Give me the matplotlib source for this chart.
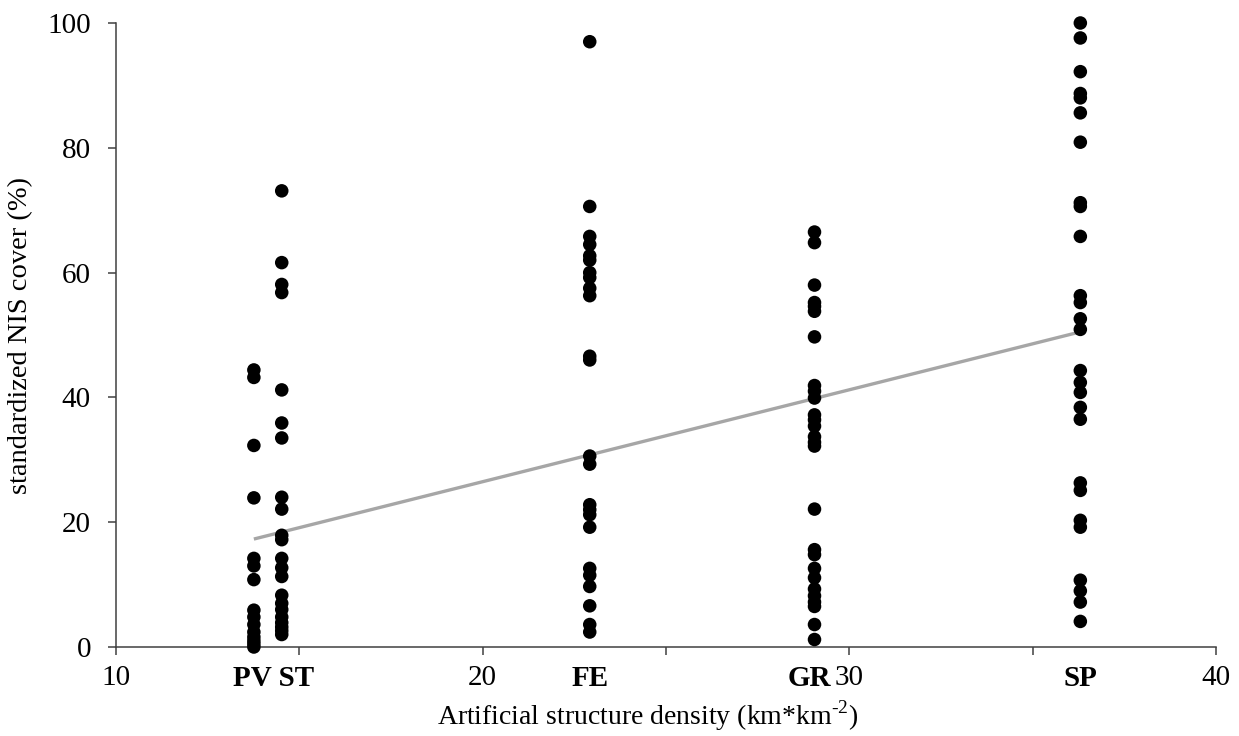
import numpy as np
import matplotlib
matplotlib.use("Agg")
import matplotlib.pyplot as plt

plt.rcParams["font.family"] = ["Liberation Serif", "DejaVu Serif"]
plt.rcParams["mathtext.fontset"] = "custom"
plt.rcParams["mathtext.rm"] = "Liberation Serif"

# Site positions on the density axis (km*km-2)
sites = ["PV", "ST", "FE", "GR", "SP"]
site_density = [13.76, 14.52, 22.92, 29.05, 36.3]

# Standardized NIS cover (%) per plot at each site
cover_pv = [44.4, 43.2, 32.3, 23.9, 14.2, 13.0, 10.8, 5.9, 4.8, 3.6, 2.4, 1.6, 1.0, 0.5, 0.0]
cover_st = [73.1, 61.6, 58.1, 56.8, 41.2, 35.9, 33.5, 24.0, 22.1, 17.9, 17.2, 14.2,
            12.7, 11.3, 8.3, 7.0, 6.0, 4.8, 3.9, 3.2, 2.6, 2.0]
cover_fe = [97.0, 70.6, 65.8, 64.5, 62.7, 62.0, 60.0, 59.2, 57.5, 56.3, 46.6, 46.0,
            30.6, 29.3, 22.8, 22.0, 21.2, 19.2, 12.6, 11.5, 9.7, 6.6, 3.6, 2.4]
cover_gr = [66.5, 64.8, 58.0, 55.2, 54.6, 53.8, 49.7, 41.9, 41.0, 39.9, 37.2, 36.4,
            35.4, 33.7, 32.8, 32.2, 22.1, 15.6, 14.8, 12.6, 11.1, 9.3, 8.2, 7.2, 6.5, 3.6, 1.2]
cover_sp = [100.0, 97.6, 92.2, 88.7, 88.0, 85.6, 80.9, 71.2, 70.6, 65.8, 56.3, 55.2,
            52.6, 50.9, 44.3, 42.4, 40.8, 38.4, 36.5, 26.3, 25.1, 20.3, 19.2, 10.7, 9.0, 7.2, 4.1]

# Fitted trend between the lowest and highest density sites
trend_x = [13.76, 36.3]
trend_y = [17.3, 50.5]

x_ticks = [10, 15, 20, 25, 30, 35, 40]
x_tick_labels = ["10", "", "20", "", "30", "", "40"]
y_ticks = [0, 20, 40, 60, 80, 100]

covers = [cover_pv, cover_st, cover_fe, cover_gr, cover_sp]

fig = plt.figure(figsize=(12.39, 7.36), dpi=100)
ax = fig.add_axes([116 / 1239, 1 - 647 / 736, (1216 - 116) / 1239, (647 - 23) / 736])

ax.plot(trend_x, trend_y, color="#a6a6a6", lw=2.4, zorder=2, solid_capstyle="butt")

for xd, vals in zip(site_density, covers):
    ax.scatter(np.full(len(vals), xd), vals, s=95, color="black",
               edgecolors="none", zorder=3, clip_on=False)

ax.set_xlim(10, 40)
ax.set_ylim(0, 100)
ax.set_xticks(x_ticks)
ax.set_xticklabels(x_tick_labels)
ax.set_yticks(y_ticks)

for side in ["top", "right"]:
    ax.spines[side].set_visible(False)
for side in ["left", "bottom"]:
    ax.spines[side].set_color("#404040")
    ax.spines[side].set_linewidth(1.1)

ax.tick_params(axis="both", direction="out", length=6, width=1.1,
               color="#404040", labelsize=21, labelcolor="black")
ax.tick_params(axis="x", pad=7)
ax.tick_params(axis="y", pad=12)

# Bold site names beneath the axis; PV and ST share one label
label_groups = [("PV ST", [0, 1], 4), ("FE", [2], 0), ("GR", [3], -4), ("SP", [4], 0)]
for text, idx, dx in label_groups:
    xd = float(np.mean([site_density[i] for i in idx]))
    ax.annotate(text, xy=(xd, 0), xycoords=("data", "axes fraction"),
                xytext=(dx, -13), textcoords="offset points",
                ha="center", va="top", fontsize=21, fontweight="bold")

ax.set_xlabel(r"Artificial structure density (km*km$^{\text{-2}}$)", fontsize=20, labelpad=2)
ax.xaxis.set_label_coords(0.483, -0.082)
ax.set_ylabel("standardized NIS cover (%)", fontsize=20.5, labelpad=10)

fig.savefig("out.png", dpi=100, facecolor="white")
